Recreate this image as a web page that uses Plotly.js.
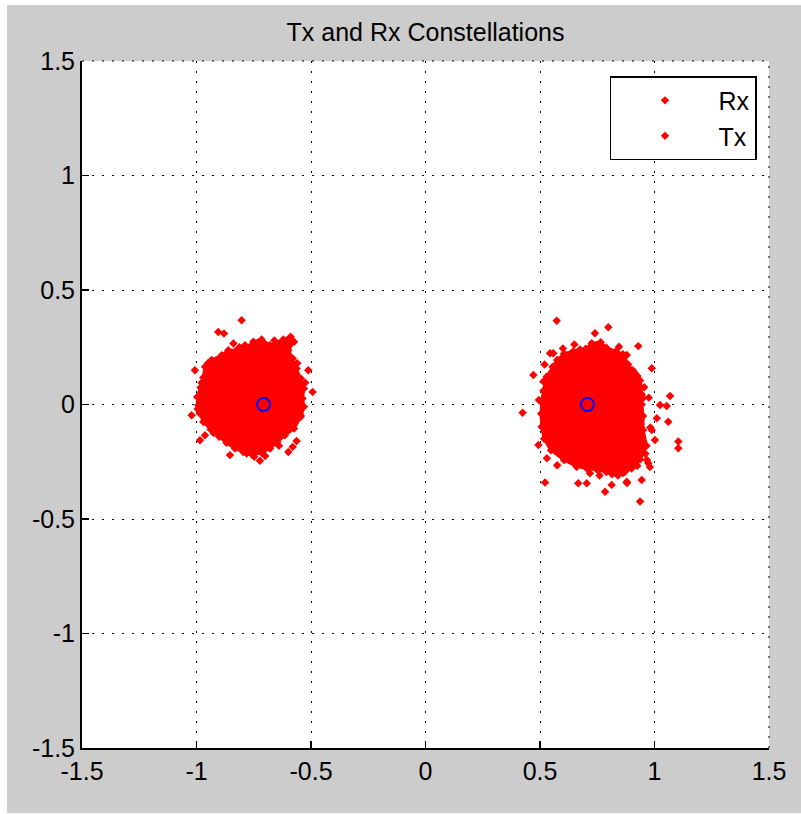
<!DOCTYPE html>
<html>
<head>
<meta charset="utf-8">
<script src="https://cdn.plot.ly/plotly-3.0.1.min.js"></script>
<style>
  html, body { margin: 0; padding: 0; background: #ffffff; width: 801px; height: 814px; overflow: hidden; }
  #chart { position: absolute; left: 7px; top: 5px; width: 794px; height: 808px; }
</style>
</head>
<body>
<div id="chart"></div>
<script>
// ---- Data ----
const tickVals = [-1.5, -1, -0.5, 0, 0.5, 1, 1.5];
const tickText = ["-1.5", "-1", "-0.5", "0", "0.5", "1", "1.5"];

// Ideal transmitted symbols (BPSK at +/- 1/sqrt(2))
const txSymX = [-0.7071, 0.7071];
const txSymY = [0, 0];

// Left cloud: outline of the dense (solid) part
const leftCoreX = [-0.752,-0.716,-0.679,-0.650,-0.621,-0.589,-0.574,-0.599,-0.580,-0.563,-0.545,-0.531,-0.537,-0.531,-0.545,-0.574,-0.614,-0.647,-0.679,-0.716,-0.759,-0.796,-0.832,-0.869,-0.901,-0.938,-0.970,-0.985,-0.992,-0.997,-0.982,-0.970,-0.963,-0.934,-0.890,-0.861,-0.825,-0.788];
const leftCoreY = [0.274,0.284,0.259,0.269,0.284,0.296,0.274,0.237,0.201,0.157,0.114,0.070,0.026,-0.010,-0.054,-0.105,-0.134,-0.163,-0.192,-0.211,-0.217,-0.207,-0.192,-0.167,-0.141,-0.109,-0.076,-0.039,-0.003,0.033,0.074,0.118,0.165,0.194,0.215,0.237,0.237,0.259];
// Left cloud: scattered points outside / on the rim of the solid part
const leftOutX = [-0.803,-0.905,-0.880,-0.839,-1.007,-1.021,-0.985,-0.963,-0.854,-0.781,-0.723,-0.599,-0.580,-0.563,-0.512,-0.493,-0.545,-0.812,-0.866,-0.950,-0.978,-0.925,-0.748,-0.700,-0.640,-0.560,-0.525,-0.600,-0.955,-0.995,-0.660];
const leftOutY = [0.368,0.317,0.310,0.266,0.150,-0.047,-0.156,-0.134,-0.221,-0.214,-0.246,-0.207,-0.185,-0.159,0.150,0.055,-0.047,0.250,0.225,0.180,0.095,-0.125,-0.228,-0.225,-0.180,0.180,0.095,0.262,0.140,-0.020,0.280];

// Right cloud: outline of the dense (solid) part
const rightCoreX = [0.700,0.726,0.765,0.790,0.831,0.862,0.885,0.912,0.937,0.944,0.944,0.950,0.950,0.965,0.937,0.900,0.870,0.830,0.790,0.750,0.705,0.660,0.605,0.548,0.518,0.507,0.505,0.507,0.515,0.529,0.555,0.575,0.605,0.645,0.675];
const rightCoreY = [0.243,0.268,0.272,0.248,0.232,0.220,0.175,0.140,0.105,0.045,0.000,-0.050,-0.111,-0.180,-0.240,-0.280,-0.295,-0.285,-0.295,-0.285,-0.280,-0.270,-0.242,-0.200,-0.150,-0.097,-0.040,0.010,0.060,0.121,0.165,0.194,0.222,0.232,0.240];
// Right cloud: scattered points outside / on the rim of the solid part
const rightOutX = [0.573,0.740,0.798,0.929,0.879,0.544,0.558,0.471,0.515,0.988,1.068,1.024,1.053,1.010,1.060,0.988,1.002,1.104,1.104,0.973,0.944,0.879,0.813,0.784,0.937,0.424,0.493,0.522,0.660,0.667,0.704,0.718,0.905,0.925,0.955,0.975,0.950,0.982,0.967,0.980,0.862,0.880,0.600,0.650,0.845,0.840,0.520,0.495,0.530,0.760,0.815,0.960,0.925,0.575];
const rightOutY = [0.366,0.311,0.337,0.255,0.216,0.224,0.224,0.129,0.100,0.158,0.037,-0.002,-0.007,-0.060,-0.075,-0.111,-0.155,-0.162,-0.191,-0.257,-0.330,-0.337,-0.351,-0.381,-0.424,-0.036,-0.177,-0.341,-0.272,-0.344,-0.344,-0.300,0.150,0.125,0.075,0.030,0.028,-0.100,-0.242,-0.273,-0.299,-0.343,0.245,0.262,0.252,-0.310,0.175,0.020,-0.235,-0.310,-0.305,-0.215,-0.268,-0.265];

// ---- Styling ----
const RED = '#ff0000';
const FONT = 'Liberation Sans, Arial, Helvetica, sans-serif';
const dia = { symbol: 'diamond', size: 6.5, color: RED, line: { width: 0 } };
const dotted = { color: '#000', width: 1, dash: '2px,8px' };

const traces = [
  { x: leftCoreX, y: leftCoreY, type: 'scatter', mode: 'lines', fill: 'toself',
    fillcolor: RED, line: { color: RED, width: 3 }, showlegend: false, hoverinfo: 'skip' },
  { x: rightCoreX, y: rightCoreY, type: 'scatter', mode: 'lines', fill: 'toself',
    fillcolor: RED, line: { color: RED, width: 3 }, showlegend: false, hoverinfo: 'skip' },
  { x: leftCoreX.concat(leftOutX), y: leftCoreY.concat(leftOutY), type: 'scatter', mode: 'markers',
    name: 'Rx', legendgroup: 'rx', marker: dia },
  { x: rightCoreX.concat(rightOutX), y: rightCoreY.concat(rightOutY), type: 'scatter', mode: 'markers',
    name: 'Tx', legendgroup: 'tx', marker: dia },
  { x: txSymX, y: txSymY, type: 'scatter', mode: 'markers', showlegend: false,
    marker: { symbol: 'circle-open', size: 13, color: '#0000ff', line: { color: '#0000ff', width: 2 } } }
];

const axisCommon = {
  range: [-1.5, 1.5],
  tickmode: 'array', tickvals: tickVals, ticktext: tickText,
  ticks: 'inside', ticklen: 7, tickwidth: 1.5, tickcolor: '#000',
  showline: true, linecolor: '#000', linewidth: 2, mirror: false,
  showgrid: true, gridcolor: '#000', gridwidth: 1, griddash: '2px,8px',
  zeroline: false,
  tickfont: { family: FONT, size: 25, color: '#000' },
  fixedrange: true
};

const layout = {
  width: 794, height: 808,
  margin: { l: 75, r: 32, t: 56, b: 65, pad: 0 },
  paper_bgcolor: '#cccccc',
  plot_bgcolor: '#ffffff',
  title: { text: 'Tx and Rx Constellations', font: { family: FONT, size: 25, color: '#000' },
           x: 0.5, xref: 'paper', xanchor: 'center', y: 0.9666, yref: 'container', yanchor: 'middle' },
  xaxis: Object.assign({}, axisCommon),
  yaxis: Object.assign({}, axisCommon),
  showlegend: true,
  legend: {
    x: 0.9825, y: 0.978, xanchor: 'right', yanchor: 'top',
    bgcolor: '#ffffff', bordercolor: '#000', borderwidth: 1.5,
    font: { family: FONT, size: 25, color: '#000' },
    itemwidth: 97, tracegroupgap: 0
  },
  // dotted box edges at the top and right (grid at +1.5)
  shapes: [
    { type: 'line', xref: 'paper', yref: 'paper', x0: 0, x1: 1, y0: 1, y1: 1, line: dotted, layer: 'below' },
    { type: 'line', xref: 'paper', yref: 'paper', x0: 1, x1: 1, y0: 0, y1: 1, line: dotted, layer: 'below' }
  ]
};

Plotly.newPlot('chart', traces, layout, { staticPlot: true, displayModeBar: false });
</script>
</body>
</html>
